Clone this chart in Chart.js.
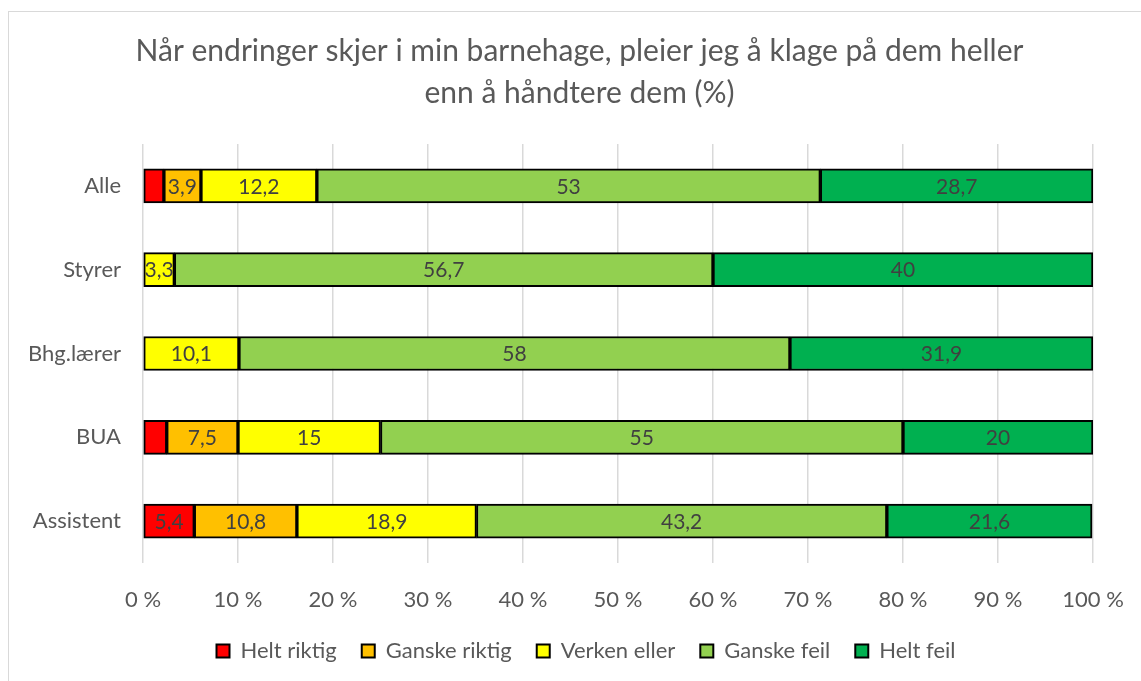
<!DOCTYPE html>
<html>
<head>
<meta charset="utf-8">
<script src="https://cdn.jsdelivr.net/npm/chart.js@4"></script>
<style>
    body { margin: 0; background: #fff; overflow: hidden; }
    #frame { position: absolute; left: 8px; top: 11px; width: 1300px; height: 900px; border: 1.5px solid #d9d9d9; }
    #wrap { position: absolute; left: 0; top: 0; width: 1141px; height: 681px; }
</style>
</head>
<body>
<div id="frame"></div>
<div id="wrap"><canvas id="myChart"></canvas></div>
<script>
const categories = ["Alle", "Styrer", "Bhg.lærer", "BUA", "Assistent"];
const seriesNames = ["Helt riktig", "Ganske riktig", "Verken eller", "Ganske feil", "Helt feil"];
const heltRiktig = [2.2, 0, 0, 2.5, 5.4];
const ganskeRiktig = [3.9, 0, 0, 7.5, 10.8];
const verkenEller = [12.2, 3.3, 10.1, 15, 18.9];
const ganskeFeil = [53, 56.7, 58, 55, 43.2];
const heltFeil = [28.7, 40, 31.9, 20, 21.6];
const xTicks = [0, 10, 20, 30, 40, 50, 60, 70, 80, 90, 100];

const colors = ["#ff0000", "#ffc000", "#ffff00", "#92d050", "#00b050"];
const allValues = [heltRiktig, ganskeRiktig, verkenEller, ganskeFeil, heltFeil];
const fontFamily = "Lato, 'Open Sans', sans-serif";

// skriver verdiene midt i hver bit av stolpen
const barLabels = {
    id: 'barLabels',
    afterDatasetsDraw(chart) {
        const ctx = chart.ctx;
        ctx.save();
        ctx.font = "21px " + fontFamily;
        ctx.fillStyle = "#404040";
        ctx.textAlign = "center";
        ctx.textBaseline = "middle";
        chart.data.datasets.forEach((ds, i) => {
            const meta = chart.getDatasetMeta(i);
            meta.data.forEach((el, j) => {
                const v = ds.data[j];
                if (v < 3) return;
                const p = el.getCenterPoint();
                ctx.fillText(String(v).replace('.', ','), p.x, p.y + 1);
            });
        });
        ctx.restore();
    }
};

// tittel og forklaring står midt i hele rammen, ikke bare i lerretet
function moveBox(box, centre) {
    if (!box) return;
    const dx = centre - (box.left + box.right) / 2;
    box.left += dx;
    box.right += dx;
}
const centerBoxes = {
    id: 'centerBoxes',
    afterLayout(chart) {
        moveBox(chart.titleBlock, 579.5);
        moveBox(chart.legend, 586);
    }
};

const ctx = document.getElementById('myChart').getContext('2d');
const myChart = new Chart(ctx, {
    type: 'bar',
    data: {
        labels: categories,
        datasets: seriesNames.map((name, i) => ({
            label: name,
            data: allValues[i],
            backgroundColor: colors[i],
            borderColor: '#000',
            borderWidth: 2,
            borderSkipped: false,
            barThickness: 34
        }))
    },
    options: {
        indexAxis: 'y',
        responsive: true,
        maintainAspectRatio: false,
        animation: false,
        layout: { padding: { left: 0, right: 48, top: 0, bottom: 9 } },
        scales: {
            x: {
                stacked: true,
                min: 0,
                max: 100,
                afterBuildTicks: (scale) => { scale.ticks = xTicks.map(v => ({ value: v })); },
                grid: { color: '#d9d9d9', lineWidth: 1.5, drawTicks: false },
                border: { display: false },
                ticks: {
                    color: '#595959',
                    font: { size: 22, family: fontFamily },
                    padding: 24,
                    callback: (v) => v + ' %'
                },
                afterFit: (scale) => {
                    scale.height = 52;
                    scale.paddingLeft = 0;
                    scale.paddingRight = 0;
                }
            },
            y: {
                stacked: true,
                grid: { display: false, drawTicks: false },
                border: { display: false },
                ticks: {
                    color: '#595959',
                    font: { size: 22, family: fontFamily },
                    padding: 22
                },
                afterFit: (scale) => { scale.width = 143; }
            }
        },
        plugins: {
            title: {
                display: true,
                text: ["Når endringer skjer i min barnehage, pleier jeg å klage på dem heller", "enn å håndtere dem (%)"],
                color: '#595959',
                font: { size: 30, family: fontFamily, weight: 'normal', lineHeight: 1.4 },
                padding: { top: 30, bottom: 30 }
            },
            legend: {
                position: 'bottom',
                labels: {
                    color: '#595959',
                    font: { size: 22, family: fontFamily },
                    boxWidth: 13,
                    boxHeight: 13,
                    padding: 25
                }
            },
            tooltip: { enabled: false }
        }
    },
    plugins: [barLabels, centerBoxes]
});
</script>
</body>
</html>
